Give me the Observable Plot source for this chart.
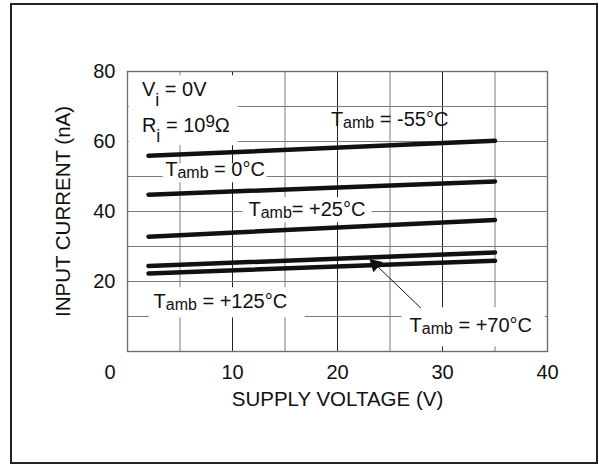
<!DOCTYPE html>
<html>
<head>
<meta charset="utf-8">
<script src="https://cdn.jsdelivr.net/npm/d3@7"></script>
<script src="https://cdn.jsdelivr.net/npm/@observablehq/plot@0.6"></script>
<style>
html, body { margin: 0; padding: 0; background: #fff; }
#wrap { position: relative; width: 599px; height: 464px; }
#wrap svg { display: block; }
#border { position: absolute; left: 10px; top: 3px; width: 588px; height: 461px; box-sizing: border-box; border: 2.5px solid #222; pointer-events: none; }
</style>
</head>
<body>
<div id="wrap"><div id="border"></div></div>
<script>
// ---- data ----
const supplyV = [2, 35];
const seriesNames = ["-55°C", "0°C", "+25°C", "+70°C", "+125°C"];
const currM55 = [55.9, 60.2];
const curr0 = [44.8, 48.6];
const curr25 = [32.8, 37.6];
const curr70 = [24.4, 28.3];
const curr125 = [22.3, 25.9];
const currents = [currM55, curr0, curr25, curr70, curr125];

const xTicks = [10, 20, 30, 40];
const yTicks = [20, 40, 60, 80];
const xGridMinor = [5, 15, 25, 35];
const xGridMajor = [10, 20, 30];
const yGrid = [10, 20, 30, 40, 50, 60, 70];
const xTitle = "SUPPLY VOLTAGE (V)";
const yTitle = "INPUT CURRENT (nA)";
const cornerLabel = ["0"];

// annotations
const labelText = ["V_{i} = 0V", "R_{i} = 10^{9}Ω", "T_{amb} = -55°C", "T_{amb} = 0°C", "T_{amb}= +25°C", "T_{amb} = +125°C", "T_{amb} = +70°C"];
const labelX = [1.37, 1.37, 19.37, 3.59, 11.52, 2.48, 26.86];
const labelY = [72.97, 62.77, 64.49, 50.2, 38.77, 12.4, 5.43];

const boxX1 = [0.16, 3.40, 11.02, 2.07, 26.16];
const boxX2 = [10.54, 13.30, 23.30, 16.92, 39.78];
const boxY1 = [58.8, 48.2, 36.8, 9.6, 1.3];
const boxY2 = [78.8, 53.6, 43.9, 18.2, 12.5];

const arrowFrom = [27.94, 12.4];
const arrowTo = [23.78, 24.4];
const arrowHeadAt = [23.59, 24.89];

// ---- tables ----
const lineRows = [];
seriesNames.forEach((s, k) => supplyV.forEach((v, j) => lineRows.push({series: s, v, i: currents[k][j]})));
const labels = labelText.map((t, k) => ({t, x: labelX[k], y: labelY[k]}));
const boxes = boxX1.map((_, k) => ({x1: boxX1[k], x2: boxX2[k], y1: boxY1[k], y2: boxY2[k]}));
const arrows = [{x1: arrowFrom[0], y1: arrowFrom[1], x2: arrowTo[0], y2: arrowTo[1]}];
const heads = [{x: arrowHeadAt[0], y: arrowHeadAt[1]}];

const font = '"Liberation Sans", Arial, Helvetica, sans-serif';
const ink = "#111";

const svg = Plot.plot({
  width: 599,
  height: 464,
  marginLeft: 127,
  marginRight: 52,
  marginTop: 71,
  marginBottom: 113,
  style: {fontFamily: font, fontSize: "20px", color: ink, background: "transparent"},
  x: {domain: [0, 40], ticks: xTicks, tickSize: 0, tickPadding: 13, label: null},
  y: {domain: [0, 80], ticks: yTicks, tickSize: 0, tickPadding: 12, label: null},
  marks: [
    Plot.ruleX(xGridMinor, {stroke: "#7a7a7a", strokeWidth: 1}),
    Plot.ruleX(xGridMajor, {stroke: "#222", strokeWidth: 1}),
    Plot.ruleY(yGrid, {stroke: "#7a7a7a", strokeWidth: 1}),
    Plot.frame({stroke: "#6e6e6e", strokeWidth: 1.4}),
    Plot.rect(boxes, {x1: "x1", x2: "x2", y1: "y1", y2: "y2", fill: "white"}),
    Plot.line(lineRows, {x: "v", y: "i", z: "series", stroke: ink, strokeWidth: 4.5, strokeLinecap: "round"}),
    Plot.link(arrows, {x1: "x1", y1: "y1", x2: "x2", y2: "y2", stroke: ink, strokeWidth: 1}),
    Plot.dot(heads, {x: "x", y: "y", symbol: "triangle2", r: 6.6, fill: ink, stroke: "none", rotate: -47}),
    Plot.text(labels, {x: "x", y: "y", text: "t", textAnchor: "start", lineAnchor: "bottom", fontSize: 20, fill: ink}),
    Plot.text(cornerLabel, {frameAnchor: "bottom-left", dx: -12, dy: 13, textAnchor: "end", lineAnchor: "top", fontSize: 20, fill: ink}),
    Plot.text([xTitle], {frameAnchor: "bottom", dy: 54, textAnchor: "middle", lineAnchor: "bottom", fontSize: 20.5, fill: ink}),
    Plot.text([yTitle], {frameAnchor: "left", dx: -72, rotate: -90, textAnchor: "middle", lineAnchor: "top", fontSize: 20.5, fill: ink})
  ]
});

// rich text: _{sub} and ^{sup}
const subStyle = {amb: {dy: 2, size: 16}, i: {dy: 10, size: 18}};
const supStyle = {dy: 5, size: 17};
const NS = "http://www.w3.org/2000/svg";
svg.querySelectorAll("text").forEach(node => {
  const s = node.textContent;
  if (!/[_^]\{/.test(s)) return;
  node.textContent = "";
  const re = /([_^])\{([^}]*)\}|([^_^]+)/g;
  let m, shift = 0;
  while ((m = re.exec(s))) {
    const t = document.createElementNS(NS, "tspan");
    if (m[1]) {
      const st = m[1] === "_" ? (subStyle[m[2]] || {dy: 4, size: 16}) : {dy: -supStyle.dy, size: supStyle.size};
      t.setAttribute("dy", st.dy - shift);
      shift = st.dy;
      t.setAttribute("font-size", st.size);
      t.textContent = m[2];
    } else {
      if (shift) t.setAttribute("dy", -shift);
      shift = 0;
      t.textContent = m[3];
    }
    node.appendChild(t);
  }
});

document.getElementById("wrap").appendChild(svg);
</script>
</body>
</html>
